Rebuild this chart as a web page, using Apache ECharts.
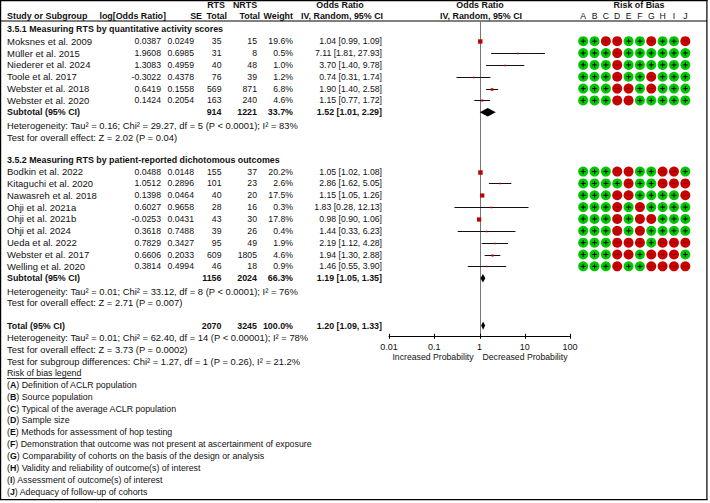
<!DOCTYPE html>
<html><head><meta charset="utf-8">
<script src="https://cdn.jsdelivr.net/npm/echarts@6/dist/echarts.min.js"></script>
<style>html,body{margin:0;padding:0;background:#fff}#c{width:710px;height:503px}</style>
</head><body><div id="c"></div>
<script>
// ---------- DATA ----------
var section1 = '3.5.1 Measuring RTS by quantitative activity scores';
var studies1 = ['Moksnes et al. 2009','Müller et al. 2015','Niederer et al. 2024','Toole et al. 2017','Webster et al. 2018','Webster et al. 2020'];
var logOR1 = [0.0387,1.9608,1.3083,-0.3022,0.6419,0.1424];
var se1 = [0.0249,0.6985,0.4959,0.4378,0.1558,0.2054];
var rts1 = [35,31,40,76,569,163];
var nrts1 = [15,8,48,39,871,240];
var weight1 = [19.6,0.5,1.0,1.2,6.8,4.6];
var or1 = [1.04,7.11,3.70,0.74,1.90,1.15];
var lo1 = [0.99,1.81,1.40,0.31,1.40,0.77];
var hi1 = [1.09,27.93,9.78,1.74,2.58,1.72];
var rob1 = ['++--++-++-','+++-++++++','+++-++++++','+++-++-+++','+++--+-+++','+++--+++++'];
var sub1 = {rts:914, nrts:1221, weight:33.7, or:1.52, lo:1.01, hi:2.29};
var het1 = 'Heterogeneity: Tau² = 0.16; Chi² = 29.27, df = 5 (P < 0.0001); I² = 83%';
var test1 = 'Test for overall effect: Z = 2.02 (P = 0.04)';

var section2 = '3.5.2 Measuring RTS by patient-reported dichotomous outcomes';
var studies2 = ['Bodkin et al. 2022','Kitaguchi et al. 2020','Nawasreh et al. 2018','Ohji et al. 2021a','Ohji et al. 2021b','Ohji et al. 2024','Ueda et al. 2022','Webster et al. 2017','Welling et al. 2020'];
var logOR2 = [0.0488,1.0512,0.1398,0.6027,-0.0253,0.3618,0.7829,0.6606,0.3814];
var se2 = [0.0148,0.2896,0.0464,0.9658,0.0431,0.7488,0.3427,0.2033,0.4994];
var rts2 = [155,101,40,28,43,39,95,609,46];
var nrts2 = [37,23,20,16,30,26,49,1805,18];
var weight2 = [20.2,2.6,17.5,0.3,17.8,0.4,1.9,4.6,0.9];
var or2 = [1.05,2.86,1.15,1.83,0.98,1.44,2.19,1.94,1.46];
var lo2 = [1.02,1.62,1.05,0.28,0.90,0.33,1.12,1.30,0.55];
var hi2 = [1.08,5.05,1.26,12.13,1.06,6.23,4.28,2.88,3.90];
var rob2 = ['+++--++--+','++++-++---','+++--++++-','+++-+-++++','+++-+--+++','+++-+-++++','+++---+---','+++--+---+','+++-++----'];
var sub2 = {rts:1156, nrts:2024, weight:66.3, or:1.19, lo:1.05, hi:1.35};
var het2 = 'Heterogeneity: Tau² = 0.01; Chi² = 33.12, df = 8 (P < 0.0001); I² = 76%';
var test2 = 'Test for overall effect: Z = 2.71 (P = 0.007)';

var total = {rts:2070, nrts:3245, weight:100.0, or:1.20, lo:1.09, hi:1.33};
var hetT = 'Heterogeneity: Tau² = 0.01; Chi² = 62.40, df = 14 (P < 0.00001); I² = 78%';
var testT = 'Test for overall effect: Z = 3.73 (P = 0.0002)';
var testSub = 'Test for subgroup differences: Chi² = 1.27, df = 1 (P = 0.26), I² = 21.2%';

var robCols = ['A','B','C','D','E','F','G','H','I','J'];
var robLegend = ['Definition of ACLR population','Source population','Typical of the average ACLR population','Sample size','Methods for assessment of hop testing','Demonstration that outcome was not present at ascertainment of exposure','Comparability of cohorts on the basis of the design or analysis','Validity and reliability of outcome(s) of interest','Assessment of outcome(s) of interest','Adequacy of follow-up of cohorts'];
var xTicks = [0.01,0.1,1,10,100];
var refValue = 1;

// ---------- LAYOUT ----------
var FF = '"Liberation Sans", Arial, sans-serif';
var FS = {name:9.5, num:8.7, stat:9.4, leg:8.8, bold:8.9};
var ROW0 = 17.5, ROWH = 11.85;
function rowY(i){ return ROW0 + i*ROWH; }
var COL = {name:7, logor:161, se:194, rts:221.5, nrts:257, w:293, or:382};
var Y_MAX = 26.9;
var FOREST = {left:389, width:181};
var ROB = {left:577.5, width:113.5};

var g = [];
function txt(x, y, s, align, kind, extra){
  var bold = kind==='bold';
  var st = {text:s, fill:'#111', fontSize: FS[kind||'name'], fontFamily:FF, fontWeight: bold?'bold':'normal', align:align||'left', verticalAlign:'middle'};
  if (extra) for (var k in extra) st[k]=extra[k];
  g.push({type:'text', x:x, y:y, silent:true, style:st});
}
function hline(x1,y,x2,w){ g.push({type:'line', silent:true, shape:{x1:x1,y1:y,x2:x2,y2:y}, style:{stroke:'#000',lineWidth:w||1}}); }
function vline(x,y1,y2,w){ g.push({type:'line', silent:true, shape:{x1:x,y1:y1,x2:x,y2:y2}, style:{stroke:'#000',lineWidth:w||1}}); }
function ciText(o,l,h){ return o.toFixed(2)+' ['+l.toFixed(2)+', '+h.toFixed(2)+']'; }

// frame and header separator
hline(0,0.6,707.5,1.2); hline(0,499.6,707.5,1.2);
vline(0.6,0,500,1.2); vline(706.9,0,500,1.2);
hline(0,21,707,1);

// headers
txt(216,5,'RTS','center','bold');
txt(245,5,'NRTS','center','bold');
txt(340,5,'Odds Ratio','center','bold');
txt(480,5,'Odds Ratio','center','bold');
txt(639,5,'Risk of Bias','center','bold');
txt(COL.name,15.5,'Study or Subgroup','left','bold');
txt(166,15.5,'log[Odds Ratio]','right','bold');
txt(202,15.5,'SE','right','bold');
txt(227,15.5,'Total','right','bold');
txt(260,15.5,'Total','right','bold');
txt(293,15.5,'Weight','right','bold');
txt(342,15.5,'IV, Random, 95% CI','center','bold');
txt(481,15.5,'IV, Random, 95% CI','center','bold');
robCols.forEach(function(c,i){ txt(ROB.left + (i+0.5)*ROB.width/robCols.length, 15.5, c, 'center', 'num'); });

function studyRows(names, lor, se, rts, nrts, w, o, l, h, startRow){
  names.forEach(function(n,i){
    var y = rowY(startRow+i);
    txt(COL.name,y,n,'left','name');
    txt(COL.logor,y,lor[i].toFixed(4),'right','num');
    txt(COL.se,y,se[i].toFixed(4),'right','num');
    txt(COL.rts,y,String(rts[i]),'right','num');
    txt(COL.nrts,y,String(nrts[i]),'right','num');
    txt(COL.w,y,w[i].toFixed(1)+'%','right','num');
    txt(COL.or,y,ciText(o[i],l[i],h[i]),'right','num');
  });
}
function subRow(label, s, row){
  var y = rowY(row);
  txt(COL.name,y,label,'left','bold');
  txt(COL.rts,y,String(s.rts),'right','bold');
  txt(COL.nrts,y,String(s.nrts),'right','bold');
  txt(COL.w,y,s.weight.toFixed(1)+'%','right','bold');
  txt(COL.or,y,ciText(s.or,s.lo,s.hi),'right','bold');
}

var R = {sec1:1, st1:2, sub1:8, het1:9, test1:10, sec2:12, st2:13, sub2:22, het2:23, test2:24, tot:26, hetT:27, testT:28, testSub:29, leg:30, legItems:31};

txt(COL.name,rowY(R.sec1),section1,'left','bold');
studyRows(studies1,logOR1,se1,rts1,nrts1,weight1,or1,lo1,hi1,R.st1);
subRow('Subtotal (95% CI)',sub1,R.sub1);
txt(COL.name,rowY(R.het1)+1,het1,'left','stat');
txt(COL.name,rowY(R.test1)+1,test1,'left','stat');

txt(COL.name,rowY(R.sec2),section2,'left','bold');
studyRows(studies2,logOR2,se2,rts2,nrts2,weight2,or2,lo2,hi2,R.st2);
subRow('Subtotal (95% CI)',sub2,R.sub2);
txt(COL.name,rowY(R.het2)+1,het2,'left','stat');
txt(COL.name,rowY(R.test2)+1,test2,'left','stat');

subRow('Total (95% CI)',total,R.tot);
txt(COL.name,rowY(R.hetT),hetT,'left','stat');
txt(COL.name,rowY(R.testT),testT,'left','stat');
txt(COL.name,rowY(R.testSub),testSub,'left','stat');

// risk of bias legend
var legTitle = 'Risk of bias legend';
txt(COL.name,rowY(R.leg),legTitle,'left','leg');
(function(){
  var cv = document.createElement('canvas').getContext('2d');
  cv.font = FS.leg+'px '+FF;
  var wdt = cv.measureText(legTitle).width;
  hline(COL.name, Math.round(rowY(R.leg)+5)+0.5, COL.name+wdt, 0.8);
})();
robLegend.forEach(function(t,i){
  txt(COL.name,rowY(R.legItems+i),'({b|'+robCols[i]+'}) '+t,'left','leg',{rich:{b:{fontWeight:'bold',fontSize:FS.leg,fontFamily:FF,fill:'#111'}}});
});

// axis captions
txt(433,357,'Increased Probability','center','num');
txt(525,357,'Decreased Probability','center','num');

// ---------- SERIES DATA ----------
var studyData = [];
or1.forEach(function(v,i){ studyData.push([v,lo1[i],hi1[i],R.st1+i,weight1[i]]); });
or2.forEach(function(v,i){ studyData.push([v,lo2[i],hi2[i],R.st2+i,weight2[i]]); });
var diamondData = [[sub1.or,sub1.lo,sub1.hi,R.sub1],[sub2.or,sub2.lo,sub2.hi,R.sub2],[total.or,total.lo,total.hi,R.tot]];
var robData = [];
rob1.forEach(function(s,r){ s.split('').forEach(function(c,ci){ robData.push([ci,R.st1+r,c==='+'?1:0]); }); });
rob2.forEach(function(s,r){ s.split('').forEach(function(c,ci){ robData.push([ci,R.st2+r,c==='+'?1:0]); }); });
var tickData = xTicks.map(function(t){ return [t, Y_MAX]; });
var refData = [[refValue, (21-ROW0)/ROWH, Y_MAX]];

function renderRef(params, api){
  var a=api.coord([api.value(0),api.value(1)]), b=api.coord([api.value(0),api.value(2)]);
  var x=Math.round(a[0])+0.5;
  return {type:'line', shape:{x1:x,y1:a[1],x2:x,y2:b[1]}, style:{stroke:'#777',lineWidth:1}};
}
function renderStudy(params, api){
  var o=api.value(0), l=api.value(1), h=api.value(2), row=api.value(3), w=api.value(4);
  var pl=api.coord([l,row]), ph=api.coord([h,row]), po=api.coord([o,row]);
  var s=Math.max(1.6, Math.sqrt(w));
  var yy = Math.round(po[1])+0.5;
  return {type:'group', children:[
    {type:'line', shape:{x1:pl[0],y1:yy,x2:ph[0],y2:yy}, style:{stroke:'#111',lineWidth:1}},
    {type:'rect', shape:{x:po[0]-s/2,y:yy-s/2,width:s,height:s}, style:{fill:'#c00000'}}
  ]};
}
function renderDiamond(params, api){
  var o=api.value(0), l=api.value(1), h=api.value(2), row=api.value(3);
  var pl=api.coord([l,row]), ph=api.coord([h,row]), po=api.coord([o,row]);
  return {type:'polygon', shape:{points:[[pl[0],po[1]],[po[0],po[1]-4.2],[ph[0],po[1]],[po[0],po[1]+4.2]]}, style:{fill:'#000'}};
}
function renderTick(params, api){
  var p=api.coord([api.value(0),api.value(1)]);
  var x=Math.round(p[0])+0.5;
  return {type:'line', shape:{x1:x,y1:p[1]-2.5,x2:x,y2:p[1]+2.5}, style:{stroke:'#000',lineWidth:1}};
}
function renderRob(params, api){
  var p=api.coord([api.value(0),api.value(1)]), ok=api.value(2)===1;
  var ch=[{type:'circle', shape:{cx:p[0],cy:p[1],r:5}, style:{fill: ok?'#00c800':'#c80000'}}];
  if (ok){
    ch.push({type:'line', shape:{x1:p[0]-2.5,y1:p[1],x2:p[0]+2.5,y2:p[1]}, style:{stroke:'#000',lineWidth:1}});
    ch.push({type:'line', shape:{x1:p[0],y1:p[1]-2.5,x2:p[0],y2:p[1]+2.5}, style:{stroke:'#000',lineWidth:1}});
  } else {
    ch.push({type:'line', shape:{x1:p[0]-2.5,y1:p[1],x2:p[0]+2.5,y2:p[1]}, style:{stroke:'#8a0000',lineWidth:1}});
  }
  return {type:'group', children:ch};
}

var yAx = {type:'value', min:0, max:Y_MAX, inverse:true, show:false};
var option = {
  animation:false,
  grid:[
    {left:FOREST.left, width:FOREST.width, top:ROW0, height:Y_MAX*ROWH},
    {left:ROB.left, width:ROB.width, top:ROW0, height:Y_MAX*ROWH}
  ],
  xAxis:[
    {type:'log', logBase:10, min:xTicks[0], max:xTicks[xTicks.length-1], gridIndex:0,
     axisLine:{onZero:false, lineStyle:{color:'#000',width:1}}, axisTick:{show:false},
     axisLabel:{fontSize:9,color:'#111',fontFamily:FF,margin:6}, splitLine:{show:false}},
    {type:'category', data:robCols, gridIndex:1, show:false}
  ],
  yAxis:[Object.assign({gridIndex:0},yAx), Object.assign({gridIndex:1},yAx)],
  series:[
    {type:'custom', xAxisIndex:0, yAxisIndex:0, renderItem:renderRef, data:refData, encode:{x:0, y:[1,2]}, silent:true, clip:false},
    {type:'custom', xAxisIndex:0, yAxisIndex:0, renderItem:renderTick, data:tickData, encode:{x:0, y:1}, silent:true},
    {type:'custom', xAxisIndex:0, yAxisIndex:0, renderItem:renderStudy, data:studyData, encode:{x:[0,1,2], y:3}, silent:true},
    {type:'custom', xAxisIndex:0, yAxisIndex:0, renderItem:renderDiamond, data:diamondData, encode:{x:[0,1,2], y:3}, silent:true},
    {type:'custom', xAxisIndex:1, yAxisIndex:1, renderItem:renderRob, data:robData, encode:{x:0, y:1}, silent:true}
  ],
  graphic:{elements:g}
};
var chart = echarts.init(document.getElementById('c'), null, {renderer:'svg'});
chart.setOption(option);
</script>
</body></html>
